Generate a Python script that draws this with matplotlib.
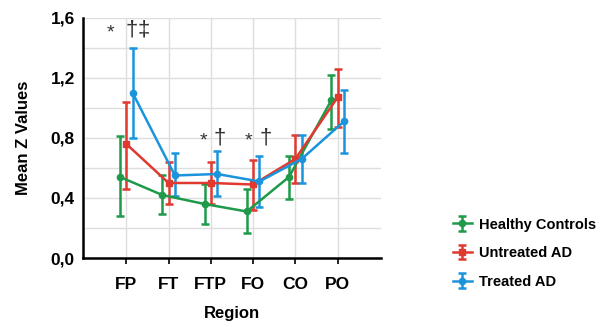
import numpy as np
import matplotlib
matplotlib.use("Agg")
import matplotlib.pyplot as plt
from matplotlib.ticker import MultipleLocator

plt.rcParams["font.family"] = ["Liberation Sans", "DejaVu Sans"]

regions = ["FP", "FT", "FTP", "FO", "CO", "PO"]

healthy = [0.54, 0.42, 0.36, 0.31, 0.54, 1.05]
healthy_lo = [0.28, 0.29, 0.23, 0.17, 0.39, 0.86]
healthy_hi = [0.81, 0.55, 0.49, 0.46, 0.68, 1.22]

untreated = [0.76, 0.50, 0.50, 0.49, 0.66, 1.07]
untreated_lo = [0.46, 0.36, 0.36, 0.32, 0.50, 0.87]
untreated_hi = [1.04, 0.64, 0.64, 0.65, 0.82, 1.26]

treated = [1.10, 0.55, 0.56, 0.51, 0.66, 0.91]
treated_lo = [0.80, 0.41, 0.41, 0.34, 0.50, 0.70]
treated_hi = [1.40, 0.70, 0.71, 0.68, 0.82, 1.12]

# simbolos de significacion: (posicion x, y, texto)
marcas = [(-0.38, 1.50, "*"), (0.12, 1.52, "†"), (0.42, 1.52, "‡"),
          (1.82, 0.78, "*"), (2.20, 0.80, "†"),
          (2.90, 0.78, "*"), (3.30, 0.80, "†")]

COL_HC, COL_UN, COL_TR = "#1e9a4a", "#e0392f", "#1b94dc"

fig = plt.figure(figsize=(6.08, 3.27), dpi=100)
ax = fig.add_axes([0.137, 0.211, 0.489, 0.734])

x = np.arange(len(regions))
series = [
    (healthy, healthy_lo, healthy_hi, COL_HC, "Healthy Controls", -0.15, "o"),
    (untreated, untreated_lo, untreated_hi, COL_UN, "Untreated AD", 0.0, "s"),
    (treated, treated_lo, treated_hi, COL_TR, "Treated AD", 0.15, "o"),
]
handles = []
for m, lo, hi, col, lab, dx, mk in series:
    m = np.array(m)
    err = [m - np.array(lo), np.array(hi) - m]
    h = ax.errorbar(x + dx, m, yerr=err, color=col, lw=1.8, marker=mk, ms=4.5,
                    capsize=3, capthick=1.8, elinewidth=1.8, label=lab, zorder=3)
    handles.append(h)

for xi, yi, t in marcas:
    ax.text(xi, yi, t, fontsize=14 if t == "*" else 16, ha="center", va="center",
            color="#333333")

ax.set_xlim(-1.02, 6.02)
ax.set_ylim(0, 1.6)
ax.set_xticks(x)
ax.set_xticklabels(regions, fontweight="bold", fontsize=12.5)
ax.yaxis.set_minor_locator(MultipleLocator(0.2))
ax.set_yticks([0, 0.4, 0.8, 1.2, 1.6])
ax.set_yticklabels(["0,0", "0,4", "0,8", "1,2", "1,6"], fontweight="bold", fontsize=12.5)
ax.grid(True, which="both", color="#dedede", lw=1, zorder=0)
ax.set_axisbelow(True)
for s in ("top", "right"):
    ax.spines[s].set_visible(False)
for s in ("left", "bottom"):
    ax.spines[s].set_linewidth(1.8)
ax.tick_params(axis="x", length=4, width=1.2, pad=10)
ax.tick_params(axis="y", which="both", length=0, pad=6)
ax.set_xlabel("Region", fontweight="bold", fontsize=12, labelpad=10)
ax.set_ylabel("Mean Z Values", fontweight="bold", fontsize=12, labelpad=14)

fig.legend(handles=handles, loc="upper left", bbox_to_anchor=(0.723, 0.375),
           frameon=False, prop={"weight": "bold", "size": 10.5},
           handlelength=1.3, labelspacing=1.0, handletextpad=0.5)

fig.savefig("out.png", dpi=100)
